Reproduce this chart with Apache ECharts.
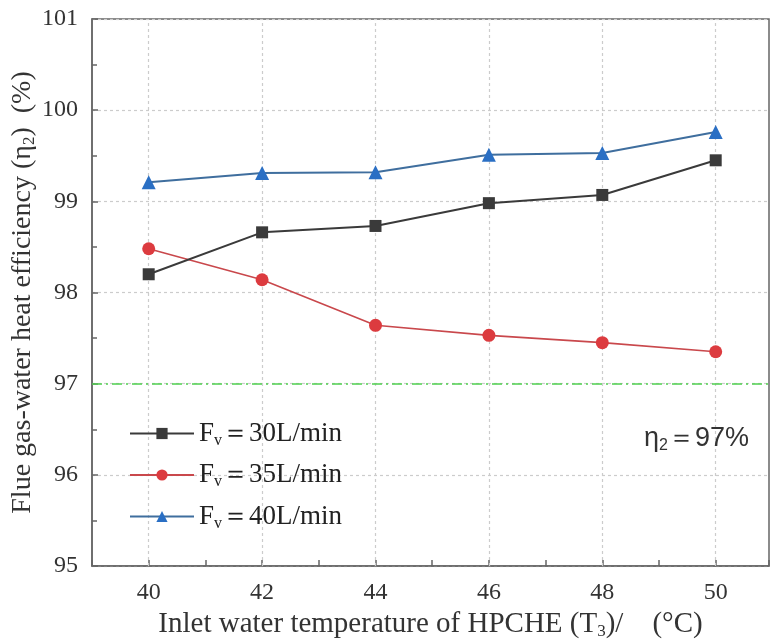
<!DOCTYPE html>
<html><head><meta charset="utf-8">
<script src="https://cdn.jsdelivr.net/npm/echarts@6/dist/echarts.min.js"></script>
<style>html,body{margin:0;padding:0;background:#fff}#c{width:771px;height:644px}</style>
</head><body><div id="c"></div>
<script>
const temps = [40, 42, 44, 46, 48, 50];
const fv30 = [98.20, 98.66, 98.73, 98.98, 99.07, 99.45];
const fv35 = [98.48, 98.14, 97.64, 97.53, 97.45, 97.35];
const fv40 = [99.21, 99.31, 99.32, 99.51, 99.53, 99.76];
const xGridTicks = [40, 42, 44, 46, 48, 50];
const thresholdValue = 97;

const serif = 'Liberation Serif';
const chart = echarts.init(document.getElementById('c'));
const pair = (xs, ys) => xs.map((x, i) => [x, ys[i]]);
const legendRich = {
  a: { fontFamily: serif, fontSize: 27, color: '#222' },
  s: { fontFamily: serif, fontSize: 16, color: '#222', verticalAlign: 'bottom', padding: [14, 0, 0, 0] }
};
const subRich = { s: { fontFamily: serif, fontSize: 17, color: '#333', verticalAlign: 'bottom', padding: [14, 0, 0, 0] } };
chart.setOption({
  animation: false,
  backgroundColor: '#fff',
  grid: { left: 92, right: 2, top: 19, bottom: 78, outerBoundsMode: 'none', containLabel: false,
    show: true, borderColor: '#666', borderWidth: 1.5, backgroundColor: 'transparent' },
  legend: {
    orient: 'vertical', left: 124, top: 415, itemGap: 13, itemWidth: 64, itemHeight: 14,
    data: ['30', '35', '40'],
    formatter: n => '{a|F}{s|v}{a|＝' + n + 'L/min}',
    textStyle: { rich: legendRich }
  },
  xAxis: {
    type: 'value', min: 39, max: 50.94, interval: 1,
    axisLine: { lineStyle: { color: '#666', width: 1.5 } },
    axisTick: { inside: true, length: 6, lineStyle: { color: '#666', width: 1.5 } },
    splitLine: { show: false },
    axisLabel: { fontFamily: serif, fontSize: 24, color: '#333', margin: 15,
      formatter: v => (Math.abs(v - Math.round(v)) < 1e-6 && Math.round(v) % 2 === 0) ? String(Math.round(v)) : '' },
    name: 'Inlet water temperature of HPCHE (T{s|3})/    (°C)',
    nameLocation: 'middle', nameGap: 39,
    nameTextStyle: { fontFamily: serif, fontSize: 29, color: '#333', rich: subRich }
  },
  yAxis: {
    type: 'value', min: 95, max: 101, interval: 1,
    axisLine: { show: true, lineStyle: { color: '#666', width: 1.5 } },
    axisTick: { show: true, inside: true, length: 6, lineStyle: { color: '#666', width: 1.5 } },
    minorTick: { show: true, splitNumber: 2, length: 5, lineStyle: { color: '#666', width: 1.5 } },
    splitLine: { show: true, lineStyle: { color: '#cccccc', type: [3, 3], width: 1.2 } },
    axisLabel: { fontFamily: serif, fontSize: 24, color: '#333', margin: 14 },
    name: 'Flue gas-water heat efficiency (η{s|2})  (%)',
    nameLocation: 'middle', nameGap: 54, nameRotate: 90, nameMoveOverlap: false,
    nameTextStyle: { fontFamily: serif, fontSize: 28, color: '#333', rich: subRich }
  },
  series: [
    {
      name: '30', type: 'line', data: pair(temps, fv30), z: 5,
      symbol: 'rect', symbolSize: 12,
      itemStyle: { color: '#3a3a3a' }, lineStyle: { color: '#3a3a3a', width: 2 },
      markLine: {
        silent: true, symbol: 'none', animation: false, z: 1,
        label: { show: false },
        lineStyle: { color: '#cccccc', type: [3, 3], width: 1.2 },
        data: xGridTicks.map(v => ({ xAxis: v }))
      }
    },
    {
      name: '35', type: 'line', data: pair(temps, fv35), z: 4,
      symbol: 'circle', symbolSize: 13,
      itemStyle: { color: '#dc3b3f' }, lineStyle: { color: '#c9484c', width: 1.6 },
      markLine: {
        silent: true, symbol: 'none', animation: false,
        lineStyle: { color: '#4fd04f', type: [10, 4, 2, 4], width: 1.6 },
        label: { show: true, position: 'insideEndBottom', distance: [20, 40],
          formatter: '{a|η}{s|2}{a|＝97%}',
          rich: {
            a: { fontFamily: 'Liberation Sans', fontSize: 27, color: '#333' },
            s: { fontFamily: 'Liberation Sans', fontSize: 16, color: '#333', verticalAlign: 'bottom', padding: [14, 0, 0, 0] }
          } },
        data: [{ yAxis: thresholdValue }]
      }
    },
    {
      name: '40', type: 'line', data: pair(temps, fv40), z: 3,
      symbol: 'triangle', symbolSize: 14,
      itemStyle: { color: '#2a6fc4' }, lineStyle: { color: '#3f6e9e', width: 2 }
    }
  ]
});
</script></body></html>
